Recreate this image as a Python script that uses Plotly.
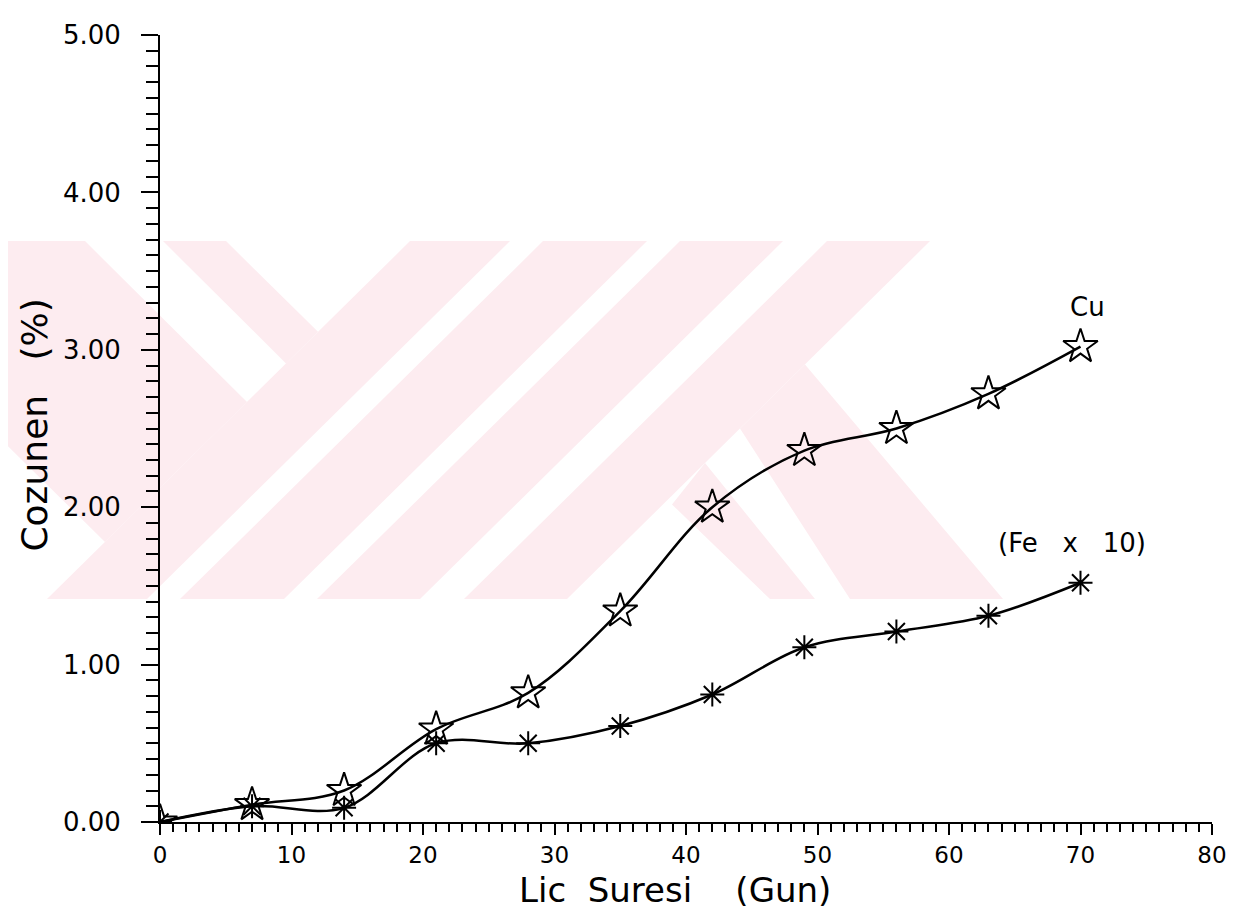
import plotly.graph_objects as go

# Data
days = [0, 7, 14, 21, 28, 35, 42, 49, 56, 63, 70]
cu_values = [0.0, 0.11, 0.2, 0.59, 0.82, 1.34, 2.0, 2.36, 2.5, 2.72, 3.02]
fe_x10_values = [0.0, 0.1, 0.09, 0.5, 0.5, 0.61, 0.81, 1.11, 1.21, 1.31, 1.52]

x_ticks = [0, 10, 20, 30, 40, 50, 60, 70, 80]
y_ticks = [0, 1, 2, 3, 4, 5]

FONT = "DejaVu Sans, Liberation Sans, Arial"

# plot area in page pixels (used only to place decorations / titles)
PX0, PX1, PY0, PY1 = 160, 1212, 24, 822


def px(xp):
    return (xp - PX0) / (PX1 - PX0)


def py(yp):
    return (PY1 - yp) / (PY1 - PY0)


# faint background watermark (decoration), in page pixels
watermark = [
    [(0, 233), (85, 233), (247, 396), (105, 538), (0, 433)],
    [(163, 233), (226, 233), (318, 325), (286, 357)],
    [(410, 233), (510, 233), (147, 596), (47, 596)],
    [(543, 233), (647, 233), (284, 596), (180, 596)],
    [(680, 233), (783, 233), (420, 596), (317, 596)],
    [(827, 233), (930, 233), (567, 596), (464, 596)],
    [(805, 358), (1003, 596), (850, 596), (740, 423)],
    [(705, 458), (815, 596), (770, 596), (672, 500)],
]

fig = go.Figure()

for poly in watermark:
    path = "M " + " L ".join(f"{px(a):.5f},{py(b):.5f}" for a, b in poly) + " Z"
    fig.add_shape(type="path", path=path, xref="paper", yref="paper",
                  fillcolor="#fdecf0", line=dict(width=0), layer="below")

fig.add_trace(go.Scatter(
    x=days, y=cu_values, mode="lines+markers", name="Cu",
    line=dict(color="black", width=2.5, shape="spline", smoothing=1.0),
    marker=dict(symbol="star-open", size=26, color="black", line=dict(color="black", width=2)),
    showlegend=False,
))
fig.add_trace(go.Scatter(
    x=days, y=fe_x10_values, mode="lines+markers", name="Fe x 10",
    line=dict(color="black", width=2.5, shape="spline", smoothing=1.0),
    marker=dict(symbol="asterisk-open", size=20, color="black", line=dict(color="black", width=2)),
    showlegend=False,
))

fig.add_annotation(x=px(1087), y=py(300), xref="paper", yref="paper", text="Cu",
                   showarrow=False, xanchor="center", yanchor="middle",
                   font=dict(family=FONT, size=26, color="black"))
fig.add_annotation(x=px(1072), y=py(539), xref="paper", yref="paper", text="(Fe   x   10)",
                   showarrow=False, xanchor="center", yanchor="middle",
                   font=dict(family=FONT, size=26, color="black"))

# axis titles as annotations (placed as in the reference)
fig.add_annotation(x=px(675), y=py(891), xref="paper", yref="paper",
                   text="Lic  Suresi    (Gun)", showarrow=False, xanchor="center", yanchor="middle",
                   font=dict(family=FONT, size=34, color="black"))
fig.add_annotation(x=px(35), y=py(420), xref="paper", yref="paper",
                   text="Cozunen   (%)", showarrow=False, textangle=-90,
                   xanchor="center", yanchor="middle",
                   font=dict(family=FONT, size=36, color="black"))

fig.update_xaxes(
    range=[0, 80], tickvals=x_ticks, ticktext=[str(v) for v in x_ticks],
    showgrid=False, zeroline=False, showline=True, linecolor="black", linewidth=2,
    ticks="outside", ticklen=11, tickwidth=2, tickcolor="black",
    minor=dict(dtick=1, ticks="outside", ticklen=8, tickwidth=2, tickcolor="black", showgrid=False),
    tickfont=dict(family=FONT, size=23, color="black"),
)
fig.update_yaxes(
    range=[0, 5], tickvals=y_ticks, ticktext=[f"{v:.2f}" for v in y_ticks],
    showgrid=False, zeroline=False, showline=True, linecolor="black", linewidth=2,
    ticks="outside", ticklen=17, tickwidth=2, tickcolor="black", ticklabelstandoff=15,
    minor=dict(dtick=0.1, ticks="outside", ticklen=12, tickwidth=2, tickcolor="black", showgrid=False),
    tickfont=dict(family=FONT, size=26, color="black"),
)

fig.update_layout(
    width=1246, height=909,
    margin=dict(l=152, r=42, t=16, b=95),
    paper_bgcolor="white", plot_bgcolor="rgba(0,0,0,0)",
)

fig.write_html("out.html")
